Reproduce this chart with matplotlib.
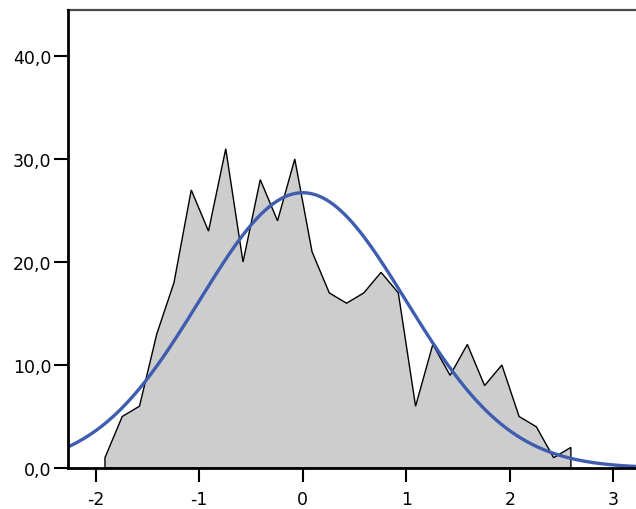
import numpy as np
import matplotlib
matplotlib.use("Agg")
import matplotlib.pyplot as plt
from matplotlib.ticker import FuncFormatter

# histogram polygon (frequency per bin), bins of width 1/6 starting at -1.91
BIN_START = -1.91
BIN_WIDTH = 1 / 6
freq = [1, 5, 6, 13, 18, 27, 23, 31, 20, 28, 24, 30, 21, 17,
        16, 17, 19, 17, 6, 12, 9, 12, 8, 10, 5, 4, 1, 2]

# fitted normal curve parameters
NORMAL_MEAN = 0.0
NORMAL_SD = 1.0

y_ticks = [0, 10, 20, 30, 40]
x_ticks = [-2, -1, 0, 1, 2, 3]

xs = BIN_START + BIN_WIDTH * np.arange(len(freq))
n_total = sum(freq)

fig = plt.figure(figsize=(6.36, 5.10), dpi=100)
ax = fig.add_axes([68 / 636, 41 / 510, 1 - 68 / 636, (469 - 11) / 510])

poly_x = np.concatenate([[xs[0]], xs, [xs[-1]]])
poly_y = np.concatenate([[0], freq, [0]])
ax.fill(poly_x, poly_y, facecolor="#cdcdcd", edgecolor="black", linewidth=1.0, zorder=2)

grid = np.linspace(-2.4, 3.4, 400)
pdf = np.exp(-0.5 * ((grid - NORMAL_MEAN) / NORMAL_SD) ** 2) / (NORMAL_SD * np.sqrt(2 * np.pi))
ax.plot(grid, n_total * BIN_WIDTH * pdf, color="#3f5db0", linewidth=2.4, zorder=3)

ax.set_xlim(-2.267, 3.219)
ax.set_ylim(0, 44.47)
ax.set_xticks(x_ticks)
ax.set_yticks(y_ticks)
ax.yaxis.set_major_formatter(FuncFormatter(lambda v, p: f"{v:.1f}".replace(".", ",")))
ax.xaxis.set_major_formatter(FuncFormatter(lambda v, p: f"{int(v)}"))
ax.tick_params(axis="both", direction="out", length=10, width=1.5, labelsize=12.5, colors="black")
ax.tick_params(axis="y", pad=2)
ax.tick_params(axis="x", pad=6)

ax.spines["right"].set_visible(False)
for s in ["left", "bottom"]:
    ax.spines[s].set_linewidth(2)
    ax.spines[s].set_color("black")
    ax.spines[s].set_zorder(4)
ax.spines["top"].set_linewidth(1.6)
ax.spines["top"].set_color("#4a4a4a")

fig.savefig("out.png", dpi=100)
